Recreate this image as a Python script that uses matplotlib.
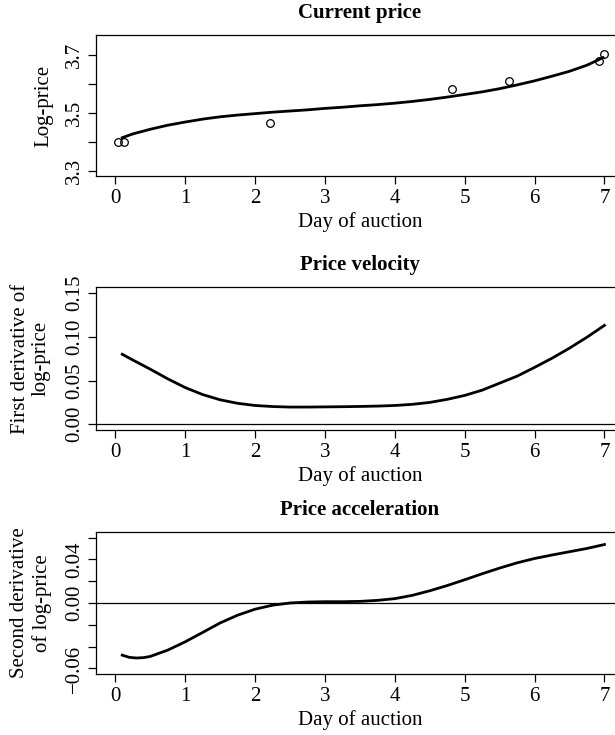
import numpy as np
import matplotlib
matplotlib.use("Agg")
import matplotlib.pyplot as plt

plt.rcParams['font.family'] = ['Liberation Serif', 'DejaVu Serif']
plt.rcParams['font.size'] = 15

# observed bids (day, log-price)
bid_day   = [0.04, 0.12, 2.21, 4.82, 5.63, 6.92, 7.00]
bid_price = [3.399, 3.399, 3.466, 3.583, 3.611, 3.677, 3.703]

# fitted log-price curve
fit_day   = [0.1, 0.25, 0.5, 0.75, 1.0, 1.25, 1.5, 1.75, 2.0, 2.25, 2.5, 2.75,
             3.0, 3.25, 3.5, 3.75, 4.0, 4.25, 4.5, 4.75, 5.0, 5.25, 5.5, 5.75,
             6.0, 6.25, 6.5, 6.75, 6.98]
fit_price = [3.414, 3.427, 3.443, 3.457, 3.468, 3.478, 3.486, 3.492, 3.497,
             3.502, 3.506, 3.510, 3.515, 3.519, 3.524, 3.528, 3.533, 3.539,
             3.546, 3.554, 3.563, 3.572, 3.583, 3.596, 3.610, 3.626, 3.643,
             3.664, 3.690]

# first derivative (velocity)
vel_day = [0.1, 0.25, 0.5, 0.75, 1.0, 1.25, 1.5, 1.75, 2.0, 2.25, 2.5, 2.75,
           3.0, 3.25, 3.5, 3.75, 4.0, 4.25, 4.5, 4.75, 5.0, 5.25, 5.5, 5.75,
           6.0, 6.25, 6.5, 6.75, 7.0]
velocity = [0.080, 0.0735, 0.063, 0.052, 0.042, 0.034, 0.028, 0.024, 0.0215,
            0.0203, 0.0197, 0.0197, 0.0199, 0.0201, 0.0204, 0.0208, 0.0215,
            0.0228, 0.025, 0.0285, 0.033, 0.039, 0.047, 0.055, 0.065, 0.0755,
            0.087, 0.0995, 0.113]

# second derivative (acceleration)
acc_day = [0.1, 0.2, 0.3, 0.4, 0.5, 0.75, 1.0, 1.25, 1.5, 1.75, 2.0, 2.25, 2.5,
           2.75, 3.0, 3.25, 3.5, 3.75, 4.0, 4.25, 4.5, 4.75, 5.0, 5.25, 5.5,
           5.75, 6.0, 6.25, 6.5, 6.75, 7.0]
acceleration = [-0.0478, -0.0498, -0.0504, -0.0501, -0.0490, -0.0432, -0.0356,
                -0.0270, -0.0183, -0.0112, -0.0057, -0.0020, 0.0000, 0.0009,
                0.0012, 0.0012, 0.0015, 0.0024, 0.0040, 0.0070, 0.0112, 0.0160,
                0.0213, 0.0268, 0.0320, 0.0368, 0.0408, 0.0440, 0.0470, 0.0500,
                0.0536]

x_ticks = [0, 1, 2, 3, 4, 5, 6, 7]

W, H = 615, 735
fig = plt.figure(figsize=(W / 100, H / 100), dpi=100)

LEFT, RIGHT = 95.7, 624.0
XLIM = (-0.28, 7.28)


def make_axes(top, bottom):
    ax = fig.add_axes([LEFT / W, 1 - bottom / H, (RIGHT - LEFT) / W, (bottom - top) / H])
    ax.set_xlim(*XLIM)
    ax.set_xticks(x_ticks)
    ax.tick_params(direction='out', length=5.5, width=0.9, pad=4, labelsize=15)
    ax.tick_params(axis='y', pad=3)
    for s in ax.spines.values():
        s.set_linewidth(0.9)
    ax.spines['right'].set_visible(False)
    return ax


def decorate(ax, top, bottom, title, ylabel, ylab_x=31):
    cx = (LEFT + RIGHT) / 2 / W
    fig.text(cx, 1 - (top - 22) / H, title, ha='center', va='center',
             fontsize=15, fontweight='bold')
    fig.text(cx, 1 - (bottom + 46) / H, "Day of auction", ha='center',
             va='center', fontsize=15)
    fig.text(ylab_x / W, 1 - (top + bottom) / 2 / H, ylabel, ha='center',
             va='center', rotation=90, fontsize=15, linespacing=1.15)
    plt.setp(ax.get_yticklabels(), rotation=90, va='center')


# Panel 1 - current price
t1, b1 = 35.0, 176.0
ax1 = make_axes(t1, b1)
ax1.plot(fit_day, fit_price, color='black', lw=2.0)
ax1.plot(bid_day, bid_price, 'o', mfc='none', mec='black', ms=5.5, mew=0.9)
ax1.set_ylim(3.282, 3.768)
ax1.set_yticks([3.3, 3.4, 3.5, 3.6, 3.7])
ax1.set_yticklabels(['3.3', '', '3.5', '', '3.7'])
decorate(ax1, t1, b1, "Current price", "Log-price", ylab_x=44)

# Panel 2 - velocity
t2, b2 = 287.3, 430.0
ax2 = make_axes(t2, b2)
ax2.axhline(0, color='black', lw=0.9)
ax2.plot(vel_day, velocity, color='black', lw=2.0)
ax2.set_ylim(-0.0065, 0.1565)
ax2.set_yticks([0.0, 0.05, 0.10, 0.15])
ax2.set_yticklabels(['0.00', '0.05', '0.10', '0.15'])
decorate(ax2, t2, b2, "Price velocity", "First derivative of\nlog-price")

# Panel 3 - acceleration
t3, b3 = 532.3, 673.7
ax3 = make_axes(t3, b3)
ax3.axhline(0, color='black', lw=0.9)
ax3.plot(acc_day, acceleration, color='black', lw=2.0)
ax3.set_ylim(-0.0648, 0.0648)
ax3.set_yticks([-0.06, -0.04, -0.02, 0.0, 0.02, 0.04, 0.06])
ax3.set_yticklabels(['\u22120.06', '', '', '0.00', '', '0.04', ''])
decorate(ax3, t3, b3, "Price acceleration", "Second derivative\nof log-price")

fig.savefig("out.png", dpi=100)
